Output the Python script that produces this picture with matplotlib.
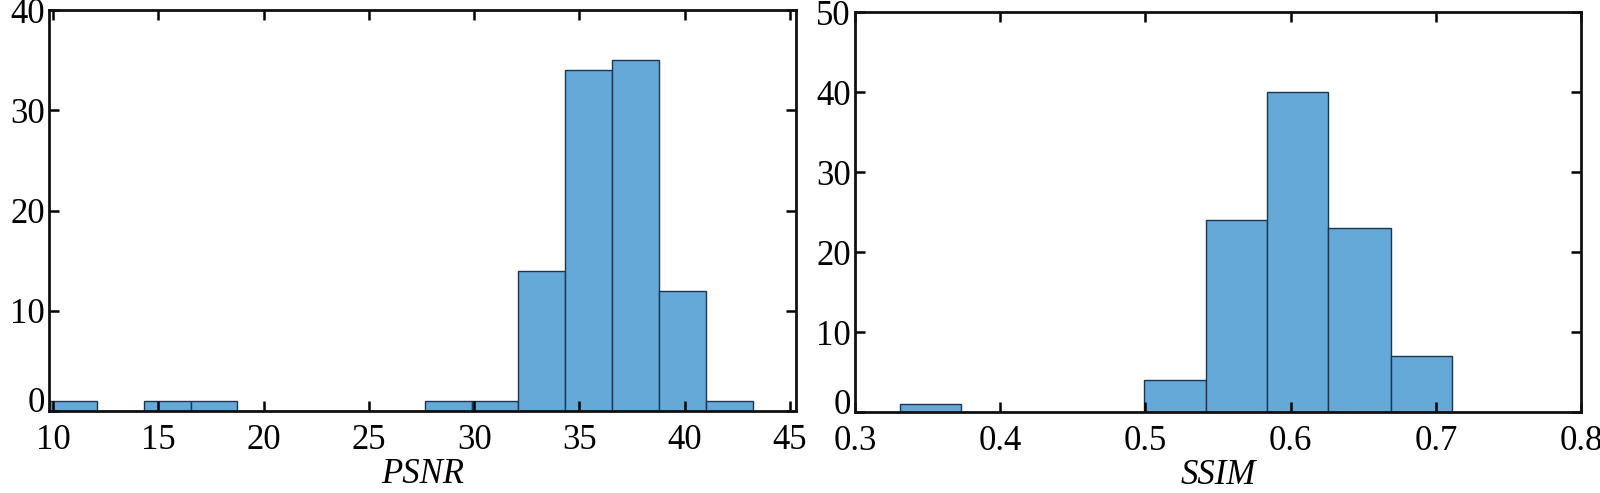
import matplotlib
matplotlib.use('Agg')
import matplotlib.pyplot as plt
import matplotlib.transforms as mtransforms
import numpy as np

# histogram bins and counts
PSNR_EDGES = [9.85, 12.08, 14.30, 16.53, 18.75, 20.98, 23.20, 25.43,
              27.65, 29.88, 32.10, 34.33, 36.55, 38.78, 41.00, 43.23]
PSNR_COUNTS = [1, 0, 1, 1, 0, 0, 0, 0, 1, 1, 14, 34, 35, 12, 1]
PSNR_XTICKS = [10, 15, 20, 25, 30, 35, 40, 45]
PSNR_YTICKS = [0, 10, 20, 30, 40]

SSIM_EDGES = [0.331, 0.373, 0.415, 0.457, 0.499, 0.542, 0.584, 0.626, 0.669, 0.711]
SSIM_COUNTS = [1, 0, 0, 0, 4, 24, 40, 23, 7]
SSIM_XTICKS = [0.3, 0.4, 0.5, 0.6, 0.7, 0.8]
SSIM_YTICKS = [0, 10, 20, 30, 40, 50]

plt.rcParams['font.family'] = ['Liberation Serif', 'DejaVu Serif']
plt.rcParams['font.size'] = 25

FACE = '#64a9d8'
EDGE = '#1d3550'

fig = plt.figure(figsize=(16, 4.93), dpi=100)
ax1 = fig.add_axes([0.0306, 0.1663, 0.467, 0.813])
ax2 = fig.add_axes([0.5344, 0.164, 0.4538, 0.811])


def draw_hist(ax, edges, counts, xticks, yticks, xlim, ylim, xlabel, xfmt):
    edges = np.array(edges)
    ax.bar(edges[:-1], counts, width=np.diff(edges), align='edge',
           color=FACE, edgecolor=EDGE, linewidth=1.0)
    ax.set_xlim(*xlim)
    ax.set_ylim(*ylim)
    ax.set_xticks(xticks)
    ax.set_xticklabels([xfmt(t) for t in xticks])
    ax.set_yticks(yticks)
    ax.set_yticklabels([str(t) for t in yticks])
    ax.tick_params(direction='in', length=7, width=1.8, top=True, right=True,
                   labelsize=25)
    ax.tick_params(axis='x', pad=9)
    ax.tick_params(axis='y', pad=3)
    for s in ax.spines.values():
        s.set_linewidth(2)
        s.set_color('#111111')
    ax.set_xlabel(xlabel, fontstyle='italic', fontsize=25, labelpad=1)
    # the zero label sits a bit above the baseline in the original
    lab = ax.yaxis.get_major_ticks()[0].label1
    lab.set_transform(lab.get_transform() +
                      mtransforms.ScaledTranslation(0, 8 / 72, fig.dpi_scale_trans))


draw_hist(ax1, PSNR_EDGES, PSNR_COUNTS, PSNR_XTICKS, PSNR_YTICKS,
          (9.8, 45.3), (0, 40), 'PSNR', lambda t: str(t))
draw_hist(ax2, SSIM_EDGES, SSIM_COUNTS, SSIM_XTICKS, SSIM_YTICKS,
          (0.3, 0.8), (0, 50), 'SSIM', lambda t: '%.1f' % t)

fig.savefig('out.png', dpi=100)
